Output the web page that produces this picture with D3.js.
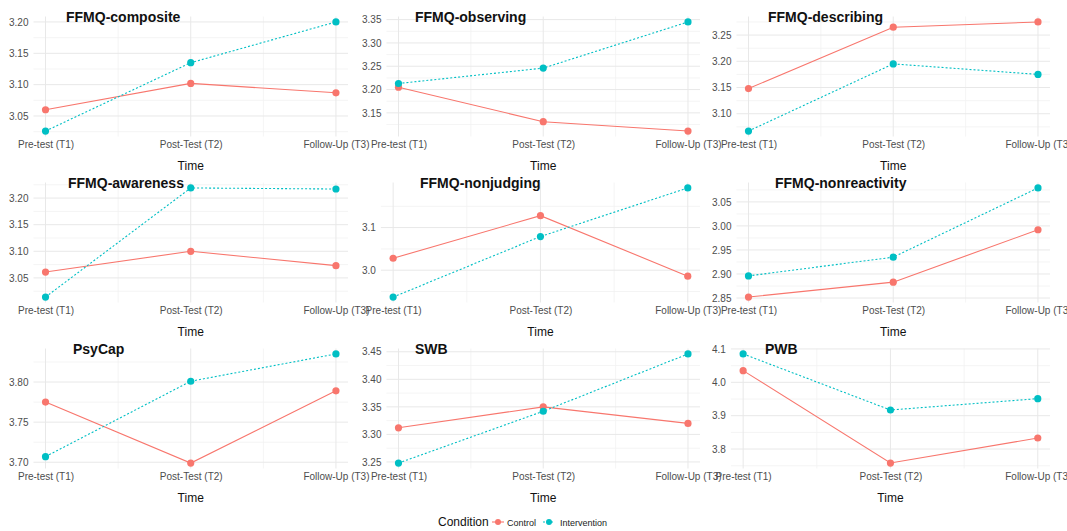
<!DOCTYPE html>
<html>
<head>
<meta charset="utf-8">
<script src="https://cdn.jsdelivr.net/npm/d3@7"></script>
<style>
  body { margin: 0; background: #fff; }
  svg { font-family: "Liberation Sans", Arial, sans-serif; }
  .tick text { fill: #4d4d4d; font-size: 10px; }
  .panel-title { font-weight: bold; font-size: 14px; fill: #111; }
  .axis-title { font-size: 12px; fill: #111; }
</style>
</head>
<body>
<svg id="chart" width="1067" height="531"></svg>
<script>
const width = 1067;
const height = 531;

/* DATA */
const times = ["Pre-test (T1)", "Post-Test (T2)", "Follow-Up (T3)"];
const conditions = ["Control", "Intervention"];
const measures = ["FFMQ-composite", "FFMQ-observing", "FFMQ-describing",
                  "FFMQ-awareness", "FFMQ-nonjudging", "FFMQ-nonreactivity",
                  "PsyCap", "SWB", "PWB"];

const controlMeans = [
  [3.060, 3.102, 3.087],
  [3.205, 3.131, 3.111],
  [3.148, 3.265, 3.275],
  [3.061, 3.100, 3.073],
  [3.028, 3.128, 2.986],
  [2.852, 2.883, 2.992],
  [3.775, 3.699, 3.789],
  [3.312, 3.350, 3.320],
  [4.035, 3.758, 3.833]
];

const interventionMeans = [
  [3.026, 3.135, 3.200],
  [3.213, 3.246, 3.345],
  [3.067, 3.195, 3.175],
  [3.014, 3.219, 3.217],
  [2.937, 3.079, 3.193],
  [2.896, 2.935, 3.079],
  [3.707, 3.801, 3.835],
  [3.248, 3.342, 3.446],
  [4.085, 3.917, 3.951]
];

const yTickLabels = [
  ["3.05", "3.10", "3.15", "3.20"],
  ["3.15", "3.20", "3.25", "3.30", "3.35"],
  ["3.10", "3.15", "3.20", "3.25"],
  ["3.05", "3.10", "3.15", "3.20"],
  ["3.0", "3.1"],
  ["2.85", "2.90", "2.95", "3.00", "3.05"],
  ["3.70", "3.75", "3.80"],
  ["3.25", "3.30", "3.35", "3.40", "3.45"],
  ["3.8", "3.9", "4.0", "4.1"]
];

/* LAYOUT */
const colLabelLeft = [9, 362, 712];
const colRight = [348, 700, 1050];
const rowTop = [16.5, 182.5, 348.5];
const panelHeight = 120;
const titleX = [66, 415, 768, 68, 420, 775, 73, 415, 765];

const colors = { Control: "#F8766D", Intervention: "#00BFC4" };
const dashes = { Control: null, Intervention: "2,2" };

const svg = d3.select("svg#chart");

measures.forEach((name, i) => drawPanel(i));
drawLegend();


/* ONE FACET */
function drawPanel(i) {
  const col = i % 3;
  const row = Math.floor(i / 3);
  const top = rowTop[row];
  const bottom = top + panelHeight;

  const series = [
    { cond: "Control", values: controlMeans[i] },
    { cond: "Intervention", values: interventionMeans[i] }
  ];

  // y domain expanded 5% like ggplot
  const all = controlMeans[i].concat(interventionMeans[i]);
  const [lo, hi] = d3.extent(all);
  const pad = (hi - lo) * 0.05;
  const y = d3.scaleLinear().domain([lo - pad, hi + pad]).range([bottom, top]);

  const ticks = yTickLabels[i].map(Number);
  const labels = yTickLabels[i];

  const g = svg.append("g").attr("class", "panel");
  const gridG = g.append("g");

  // y axis first, so its label width sets the panel left edge
  const yAxis = d3.axisLeft(y)
    .tickValues(ticks)
    .tickFormat((d, k) => labels[k])
    .tickSize(0)
    .tickPadding(5);

  const yGroup = g.append("g").call(yAxis);
  yGroup.select(".domain").remove();

  let labelWidth = 0;
  yGroup.selectAll("text").each(function() {
    labelWidth = Math.max(labelWidth, this.getComputedTextLength());
  });

  const left = colLabelLeft[col] + labelWidth + 5;
  const right = colRight[col];
  yGroup.attr("transform", translate(left, 0));

  const x = d3.scalePoint().domain(times).range([left, right]).padding(0.083);

  // grid: minor first, then major
  const step = ticks[1] - ticks[0];
  const minorY = [ticks[0] - step / 2].concat(ticks.map(t => t + step / 2))
    .filter(v => v > y.domain()[0] && v < y.domain()[1]);
  const minorX = [0, 1].map(k => (x(times[k]) + x(times[k + 1])) / 2);

  gridG.selectAll("line.minor-y").data(minorY).enter().append("line")
    .attr("x1", left).attr("x2", right)
    .attr("y1", d => y(d)).attr("y2", d => y(d))
    .attr("stroke", "#f1f1f1").attr("stroke-width", 0.8);

  gridG.selectAll("line.minor-x").data(minorX).enter().append("line")
    .attr("x1", d => d).attr("x2", d => d)
    .attr("y1", top).attr("y2", bottom)
    .attr("stroke", "#f1f1f1").attr("stroke-width", 0.8);

  gridG.selectAll("line.major-y").data(ticks).enter().append("line")
    .attr("x1", left).attr("x2", right)
    .attr("y1", d => y(d)).attr("y2", d => y(d))
    .attr("stroke", "#e8e8e8").attr("stroke-width", 1);

  gridG.selectAll("line.major-x").data(times).enter().append("line")
    .attr("x1", d => x(d)).attr("x2", d => x(d))
    .attr("y1", top).attr("y2", bottom)
    .attr("stroke", "#e8e8e8").attr("stroke-width", 1);

  // x axis
  const xAxis = d3.axisBottom(x).tickSize(0).tickPadding(4);
  const xGroup = g.append("g").attr("transform", translate(0, bottom)).call(xAxis);
  xGroup.select(".domain").remove();

  // axis title
  g.append("text")
    .attr("class", "axis-title")
    .attr("x", (left + right) / 2)
    .attr("y", bottom + 33)
    .attr("text-anchor", "middle")
    .text("Time");

  // lines, then points
  const line = d3.line()
    .x((d, k) => x(times[k]))
    .y(d => y(d));

  g.selectAll("path.series").data(series).enter().append("path")
    .attr("d", d => line(d.values))
    .attr("fill", "none")
    .attr("stroke", d => colors[d.cond])
    .attr("stroke-width", 1.1)
    .attr("stroke-dasharray", d => dashes[d.cond]);

  series.forEach(s => {
    g.append("g").selectAll("circle").data(s.values).enter().append("circle")
      .attr("cx", (d, k) => x(times[k]))
      .attr("cy", d => y(d))
      .attr("r", 3.6)
      .attr("fill", colors[s.cond]);
  });

  // facet title
  g.append("text")
    .attr("class", "panel-title")
    .attr("x", titleX[i])
    .attr("y", top + 5.5)
    .text(measures[i]);
}


/* LEGEND */
function drawLegend() {
  const legend = svg.append("g").attr("transform", translate(438, 526));

  legend.append("text")
    .attr("font-size", 12)
    .attr("fill", "#111")
    .text("Condition");

  const keyX = [60, 111];
  const textX = [69, 122];

  conditions.forEach((c, k) => {
    const key = legend.append("g").attr("transform", translate(keyX[k], -4));
    key.append("line")
      .attr("x1", -6).attr("x2", 6)
      .attr("stroke", colors[c]).attr("stroke-width", 1.1)
      .attr("stroke-dasharray", dashes[c]);
    key.append("circle").attr("r", 3).attr("fill", colors[c]);

    legend.append("text")
      .attr("x", textX[k])
      .attr("font-size", 9)
      .attr("fill", "#222")
      .text(c);
  });
}


function translate(x, y) {
  return "translate(" + String(x) + "," + String(y) + ")";
}
</script>
</body>
</html>
